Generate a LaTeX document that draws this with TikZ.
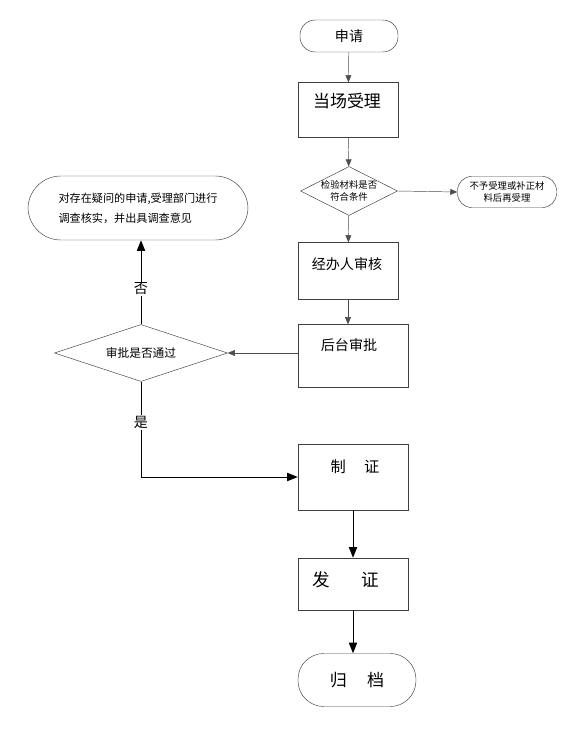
\documentclass[tikz,border=0pt]{standalone}
\usepackage{fontspec}
\newfontfamily\cjk{Noto Sans CJK SC}
\usetikzlibrary{arrows.meta,shapes.geometric}
\tikzset{
  box/.style={draw=black!75, thin, minimum width=3cm, minimum height=1.65cm, inner sep=0pt},
  term/.style={draw=black!75, thin, rounded corners=13pt, minimum width=2.94cm, minimum height=0.96cm, inner sep=0pt},
  ask/.style={draw=black!75, thin, diamond, inner sep=0pt},
  flow/.style={draw=black!70, thin, -{Triangle[width=5pt,length=6pt]}},
  bigflow/.style={draw=black, line width=0.8pt, -{Triangle[width=7pt,length=9pt]}},
  every node/.style={font=\cjk}
}
\begin{document}
\begin{tikzpicture}[x=0.03cm, y=-0.03cm]
  \useasboundingbox (0,0) rectangle (563,740);
  % upper column
  \node[term, font=\cjk\fontsize{12}{14}\selectfont] (sq) at (349,36) {申请};
  \node[box] (sl) at (348,110) {};
  \node[font=\cjk\fontsize{14.5}{16}\selectfont] at (347,101) {当场受理};
  \node[ask, minimum width=2.91cm, minimum height=1.47cm,
    label={[align=center, font=\cjk\fontsize{8}{10}\selectfont]center:检验材料是否\\符合条件}] (jy) at (349,191) {};
  \node[term, rounded corners=12pt, minimum width=2.97cm, minimum height=0.93cm, align=center, font=\cjk\fontsize{8}{10}\selectfont] (bysl) at (507,192) {不予受理或补正材\\料后再受理};
  \node[box, minimum height=1.71cm] (jb) at (348,271) {};
  \node[font=\cjk\fontsize{12}{14}\selectfont] at (347,264) {经办人审核};
  \node[box, minimum width=3.3cm, minimum height=1.89cm] (ht) at (353,356) {};
  \node[font=\cjk\fontsize{12}{14}\selectfont] at (349,345) {后台审批};
  % left branch
  \node[ask, minimum width=5.19cm, minimum height=1.71cm,
    label={[font=\cjk\fontsize{10}{12}\selectfont]center:审批是否通过}] (sp) at (141,353) {};
  \node[term, rounded corners=28pt, minimum width=6.6cm, minimum height=1.92cm, align=left, font=\cjk\fontsize{9.5}{17}\selectfont] (dc) at (138,208) {对存在疑问的申请,受理部门进行\\调查核实，并出具调查意见};
  % lower column
  \node[box, minimum width=3.3cm, minimum height=1.98cm] (zz) at (353,477) {};
  \node[font=\cjk\fontsize{13}{15}\selectfont] at (355,467) {制\hspace{1.2em}证};
  \node[box, minimum width=3.3cm, minimum height=1.56cm] (fz) at (353,584) {};
  \node[font=\cjk\fontsize{15}{17}\selectfont] at (346,580) {发\hspace{1.8em}证};
  \node[term, rounded corners=22pt, minimum width=3.54cm, minimum height=1.59cm, font=\cjk\fontsize{14.5}{16}\selectfont] (gd) at (357,680) {归\hspace{1.2em}档};
  % connectors
  \draw[flow] (sq) -- (sl);
  \draw[flow] (sl) -- (jy);
  \draw[flow] (jy.east) -- (bysl.west);
  \draw[flow] (jy) -- (jb);
  \draw[flow] (jb.south) -- (jb.south |- ht.north);
  \draw[flow] (ht.west |- sp.east) -- (sp.east);
  \draw[bigflow] (sp.north) -- node[pos=0.42, fill=white, inner sep=1pt, font=\cjk\fontsize{12}{14}\selectfont] {否} (sp.north |- dc.south);
  \draw[bigflow] (sp.south) -- node[pos=0.43, fill=white, inner sep=1pt, font=\cjk\fontsize{12}{14}\selectfont] {是} (sp.south |- zz.west) -- (zz.west);
  \draw[bigflow] (zz) -- (fz);
  \draw[bigflow] (fz.south) -- (fz.south |- gd.north);
\end{tikzpicture}
\end{document}
